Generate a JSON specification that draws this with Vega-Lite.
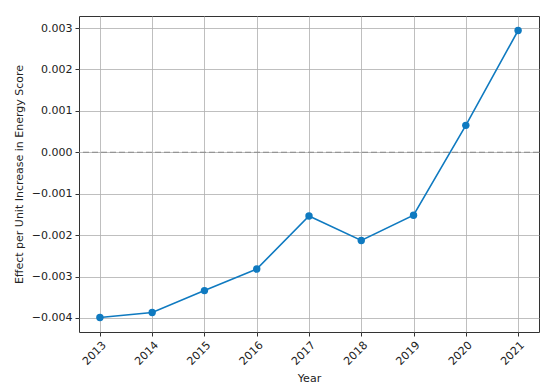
{
  "$schema": "https://vega.github.io/schema/vega-lite/v6.json",
  "width": 460,
  "height": 316,
  "autosize": {"type": "none"},
  "padding": {"left": 79, "top": 16, "right": 11, "bottom": 59},
  "background": "white",
  "config": {
    "font": "DejaVu Sans",
    "view": {"stroke": "#333333", "strokeWidth": 1},
    "axis": {
      "grid": true,
      "gridColor": "#b0b0b0",
      "gridOpacity": 0.9,
      "gridWidth": 0.9,
      "domain": false,
      "tickColor": "#333333",
      "tickSize": 4,
      "labelColor": "#222222",
      "labelFontSize": 11,
      "labelFont": "DejaVu Sans",
      "titleFont": "DejaVu Sans",
      "titleFontSize": 11,
      "titleFontWeight": "normal",
      "titleColor": "#222222",
      "labelPadding": 3
    }
  },
  "data": {
    "values": [
      {"year": 2013, "effect": -0.00399},
      {"year": 2014, "effect": -0.00387},
      {"year": 2015, "effect": -0.00334},
      {"year": 2016, "effect": -0.00282},
      {"year": 2017, "effect": -0.00154},
      {"year": 2018, "effect": -0.00213},
      {"year": 2019, "effect": -0.00152},
      {"year": 2020, "effect": 0.00065},
      {"year": 2021, "effect": 0.00294}
    ]
  },
  "layer": [
    {
      "data": {"values": [{"zero": 0}]},
      "mark": {"type": "rule", "color": "#888888", "strokeDash": [6, 3], "strokeWidth": 1.2},
      "encoding": {"y": {"field": "zero", "type": "quantitative", "scale": {"domain": [-0.00434, 0.00329]}}}
    },
    {
      "mark": {"type": "line", "color": "#0f7ac0", "strokeWidth": 1.6, "point": {"filled": true, "size": 55, "color": "#0f7ac0", "opacity": 1}},
      "encoding": {
        "x": {
          "field": "year",
          "type": "quantitative",
          "title": "Year",
          "scale": {"domain": [2012.6, 2021.4], "nice": false, "zero": false},
          "axis": {"values": [2013, 2014, 2015, 2016, 2017, 2018, 2019, 2020, 2021], "format": "d", "labelAngle": -45, "titlePadding": 6}
        },
        "y": {
          "field": "effect",
          "type": "quantitative",
          "title": "Effect per Unit Increase in Energy Score",
          "scale": {"domain": [-0.00434, 0.00329], "nice": false, "zero": false},
          "axis": {"values": [-0.004, -0.003, -0.002, -0.001, 0, 0.001, 0.002, 0.003], "format": ".3f", "titlePadding": 7}
        }
      }
    }
  ]
}
